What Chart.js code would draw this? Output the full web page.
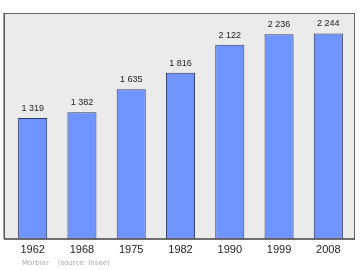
<!DOCTYPE html>
<html>
<head>
<meta charset="utf-8">
<script src="https://cdn.jsdelivr.net/npm/chart.js@4/dist/chart.umd.min.js"></script>
<style>
  html, body { margin: 0; padding: 0; background: #fff; }
  #wrap { width: 360px; height: 270px; position: relative; }
</style>
</head>
<body>
<div id="wrap"><canvas id="popChart"></canvas></div>
<script>
// années des recensements
const years = ['1962', '1968', '1975', '1982', '1990', '1999', '2008'];
// population
const population = [1319, 1382, 1635, 1816, 2122, 2236, 2244];
const valueLabels = ['1 319', '1 382', '1 635', '1 816', '2 122', '2 236', '2 244'];
const footerText = 'Morbier    (source: Insee)';

// fond gris + cadre autour de la zone du graphique
const framePlugin = {
    id: 'frame',
    beforeDraw(chart) {
        const a = chart.chartArea;
        const ctx = chart.ctx;
        ctx.save();
        ctx.fillStyle = '#ebebeb';
        ctx.fillRect(a.left - 4, a.top, a.right - a.left + 6, a.bottom - a.top);
        ctx.strokeStyle = '#666';
        ctx.lineWidth = 1;
        ctx.strokeRect(a.left - 3.5, a.top + 0.5, a.right - a.left + 5, a.bottom - a.top);
        ctx.strokeStyle = '#444';
        ctx.beginPath();
        ctx.moveTo(a.left - 4, a.top);
        ctx.lineTo(a.left - 4, a.bottom);
        ctx.lineTo(a.right + 2, a.bottom);
        ctx.stroke();
        ctx.restore();
    },
    afterDatasetsDraw(chart) {
        const ctx = chart.ctx;
        const meta = chart.getDatasetMeta(0);
        ctx.save();
        ctx.font = '9px "Liberation Sans", Arial, sans-serif';
        ctx.fillStyle = '#222';
        ctx.textAlign = 'center';
        ctx.textBaseline = 'bottom';
        meta.data.forEach((bar, i) => {
            ctx.fillText(valueLabels[i], bar.x, bar.y - 5);
        });
        ctx.font = '7px "DejaVu Sans", sans-serif';
        ctx.fillStyle = '#aaa';
        ctx.textAlign = 'left';
        ctx.textBaseline = 'middle';
        ctx.fillText(footerText, 22, 263);
        ctx.restore();
    }
};

new Chart(document.getElementById('popChart'), {
    type: 'bar',
    data: {
        labels: years,
        datasets: [{
            data: population,
            backgroundColor: '#6f94ff',
            borderColor: '#2f3b66',
            borderWidth: 1,
            borderSkipped: false,
            categoryPercentage: 1,
            barPercentage: 0.59
        }]
    },
    options: {
        responsive: true,
        maintainAspectRatio: false,
        animation: false,
        layout: { padding: { left: 8, right: 7, top: 13, bottom: 16 } },
        plugins: {
            legend: { display: false },
            tooltip: { enabled: false }
        },
        scales: {
            x: {
                grid: { display: false },
                border: { display: false },
                ticks: {
                    color: '#222',
                    padding: -3,
                    font: { size: 11, family: '"Liberation Sans", Arial, sans-serif' }
                }
            },
            y: {
                display: false,
                min: 0,
                max: 2468
            }
        }
    },
    plugins: [framePlugin]
});
</script>
</body>
</html>
